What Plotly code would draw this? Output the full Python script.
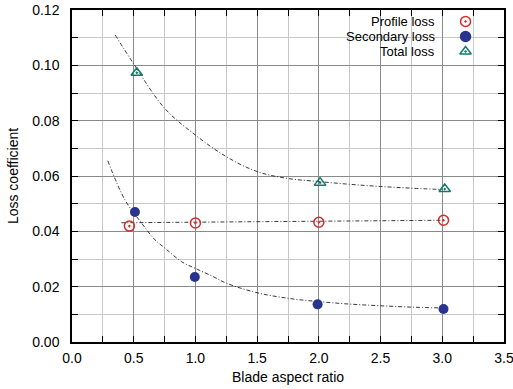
import plotly.graph_objects as go

# Measured points
profile_x = [0.465, 1.0, 2.0, 3.01]
profile_y = [0.0419, 0.0430, 0.0433, 0.0440]
secondary_x = [0.51, 0.995, 1.99, 3.01]
secondary_y = [0.0470, 0.0235, 0.0136, 0.0119]
total_x = [0.525, 2.01, 3.02]
total_y = [0.0973, 0.0576, 0.0553]

# Fit curves
profile_fit_x = [0.40, 3.0]
profile_fit_y = [0.0431, 0.0440]
secondary_fit_x = [0.29, 0.43, 0.565, 0.673, 0.754, 0.889, 1.0, 1.145, 1.254, 1.5, 1.75, 2.0, 2.25, 2.5, 2.75, 3.0]
secondary_fit_y = [0.0655, 0.0513, 0.0429, 0.0369, 0.0339, 0.0290, 0.0266, 0.0236, 0.0212, 0.0178, 0.0158, 0.0146, 0.0137, 0.0131, 0.0126, 0.0123]
total_fit_x = [0.35, 0.5, 0.75, 1.0, 1.25, 1.5, 1.75, 2.0, 2.25, 2.5, 2.75, 3.0]
total_fit_y = [0.1110, 0.1005, 0.0845, 0.0748, 0.0670, 0.0616, 0.0591, 0.0580, 0.0570, 0.0562, 0.0556, 0.0551]

series_names = ["Profile loss", "Secondary loss", "Total loss"]

RED = "#d42a2a"
NAVY = "#28358f"
TEAL = "#137b6b"
FONT = "Liberation Sans, Arial, sans-serif"
DASH = "4px,2px,1px,2px"

fig = go.Figure()

for fx, fy in [(profile_fit_x, profile_fit_y), (secondary_fit_x, secondary_fit_y), (total_fit_x, total_fit_y)]:
    fig.add_trace(go.Scatter(x=fx, y=fy, mode="lines", line=dict(color="#222222", width=0.9, dash=DASH, shape="spline"),
                             showlegend=False, hoverinfo="skip"))

fig.add_trace(go.Scatter(x=profile_x, y=profile_y, mode="markers", name=series_names[0],
                         marker=dict(symbol="circle-open-dot", size=10, color=RED, line=dict(width=1.5, color=RED))))
fig.add_trace(go.Scatter(x=secondary_x, y=secondary_y, mode="markers", name=series_names[1],
                         marker=dict(symbol="circle", size=10, color=NAVY, line=dict(width=0))))
fig.add_trace(go.Scatter(x=total_x, y=total_y, mode="markers", name=series_names[2],
                         marker=dict(symbol="triangle-up-open-dot", size=10, color=TEAL, line=dict(width=1.5, color=TEAL))))

# custom legend (text left of markers)
leg_y = [0.9654, 0.9202, 0.8750]
fig.add_trace(go.Scatter(x=[0.911] * 3, y=leg_y, xaxis="x2", yaxis="y2", mode="markers", showlegend=False,
                         hoverinfo="skip",
                         marker=dict(symbol=["circle-open-dot", "circle", "triangle-up-open-dot"], size=10,
                                     color=[RED, NAVY, TEAL], line=dict(width=1.5, color=[RED, NAVY, TEAL]))))
for name, yy in zip(series_names, leg_y):
    fig.add_annotation(x=0.843, y=yy, xref="paper", yref="paper", text=name, showarrow=False,
                       xanchor="right", yanchor="middle", borderpad=0,
                       font=dict(size=13, color="black", family=FONT))
fig.add_shape(type="rect", xref="paper", yref="paper", x0=0.567, x1=0.979, y0=0.837, y1=0.983,
              fillcolor="white", line=dict(width=0), layer="between")

MAJOR = "#8a8a8a"
MINOR = "#c8c8c8"
fig.update_layout(
    width=513, height=389,
    margin=dict(l=72, r=9, t=10, b=47),
    paper_bgcolor="white", plot_bgcolor="white",
    font=dict(family=FONT, size=14, color="black"),
    showlegend=False,
    xaxis=dict(range=[0, 3.5], dtick=0.5, tick0=0, tickformat=".1f", showgrid=True, gridcolor=MAJOR, gridwidth=1.2,
               ticks="inside", ticklen=6, tickcolor="black", showline=True, linecolor="black", linewidth=1.5,
               mirror="allticks", zeroline=False, ticklabelstandoff=2, automargin=False, ticklabeloverflow="allow",
               minor=dict(dtick=0.25, ticks="inside", ticklen=6, tickcolor="black", showgrid=True,
                          gridcolor=MINOR, gridwidth=1.2),
               title=dict(text="Blade aspect ratio", standoff=8, font=dict(size=14))),
    yaxis=dict(range=[0, 0.12], dtick=0.02, tick0=0, tickformat=".2f", showgrid=True, gridcolor=MAJOR, gridwidth=1.2,
               ticks="inside", ticklen=6, tickcolor="black", showline=True, linecolor="black", linewidth=1.5,
               mirror="allticks", zeroline=False, ticklabelstandoff=8, automargin=False, ticklabeloverflow="allow",
               minor=dict(dtick=0.01, ticks="inside", ticklen=6, tickcolor="black", showgrid=True,
                          gridcolor=MINOR, gridwidth=1.2),
               title=dict(text="Loss coefficient", standoff=10, font=dict(size=14))),
    xaxis2=dict(overlaying="x", range=[0, 1], visible=False),
    yaxis2=dict(overlaying="y", range=[0, 1], visible=False),
)

fig.write_html("out.html")
